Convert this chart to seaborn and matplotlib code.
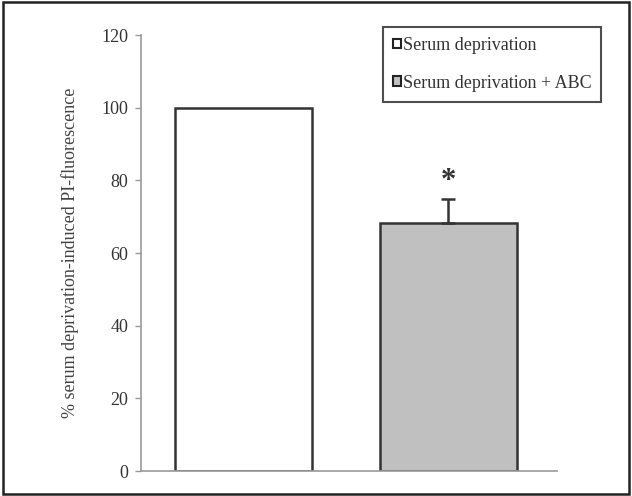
import matplotlib
matplotlib.use("Agg")
import matplotlib.pyplot as plt
import seaborn as sns
import pandas as pd
from matplotlib.patches import Rectangle

# data
groups = ["Serum deprivation", "Serum deprivation + ABC"]
values = [100, 68.3]
err_up = [0, 6.6]
colors = ["white", "#c0c0c0"]

sns.set_style("white")
plt.rcParams["font.family"] = ["Liberation Serif", "DejaVu Serif"]

df = pd.DataFrame({"group": groups, "value": values})

fig = plt.figure(figsize=(6.32, 4.96), dpi=100)
ax = fig.add_axes([0.223, 0.0504, 0.658, 0.879])

sns.barplot(data=df, x="group", y="value", hue="group", palette=colors,
            width=0.67, edgecolor="#333333", linewidth=1.8, ax=ax, legend=False)

# upper error bar only for the treated group
ax.errorbar([1], [values[1]], yerr=[[0], [err_up[1]]], fmt="none",
            ecolor="#333333", elinewidth=1.8, capsize=5, capthick=1.8)
ax.text(1, values[1] + err_up[1] + 0.8, "*", ha="center", va="bottom",
        fontsize=22, fontweight="bold", color="#333333")

ax.set_ylim(0, 120)
ax.set_xlim(-0.5, 1.53)
ax.set_yticks(range(0, 121, 20))
ax.set_xticks([])
ax.set_xlabel("")
ax.set_ylabel("% serum deprivation-induced PI-fluorescence", fontsize=13,
              color="#444444", labelpad=16)
ax.tick_params(axis="y", left=True, length=4, width=1, color="#999999",
               labelsize=13, labelcolor="#333333", pad=5)
for s in ["top", "right"]:
    ax.spines[s].set_visible(False)
for s in ["left", "bottom"]:
    ax.spines[s].set_color("#999999")
    ax.spines[s].set_linewidth(1.2)

handles = [Rectangle((0, 0), 1, 1, facecolor=c, edgecolor="#222222", linewidth=1.5)
           for c in colors]
leg = fig.legend(handles, groups, loc="upper left",
                 bbox_to_anchor=(383 / 632, 1 - 27 / 496),
                 frameon=True, fancybox=False, fontsize=13,
                 handlelength=0.45, handleheight=0.45, handletextpad=0.1,
                 labelspacing=1.15, borderpad=0.55, borderaxespad=0)
leg.get_frame().set_edgecolor("#222222")
leg.get_frame().set_linewidth(1.5)
for t in leg.get_texts():
    t.set_color("#333333")

# outer frame of the figure
fig.patches.append(Rectangle((0.004, 0.005), 0.992, 0.99, transform=fig.transFigure,
                             fill=False, edgecolor="#222222", linewidth=1.8))

fig.savefig("out.png", dpi=100)
